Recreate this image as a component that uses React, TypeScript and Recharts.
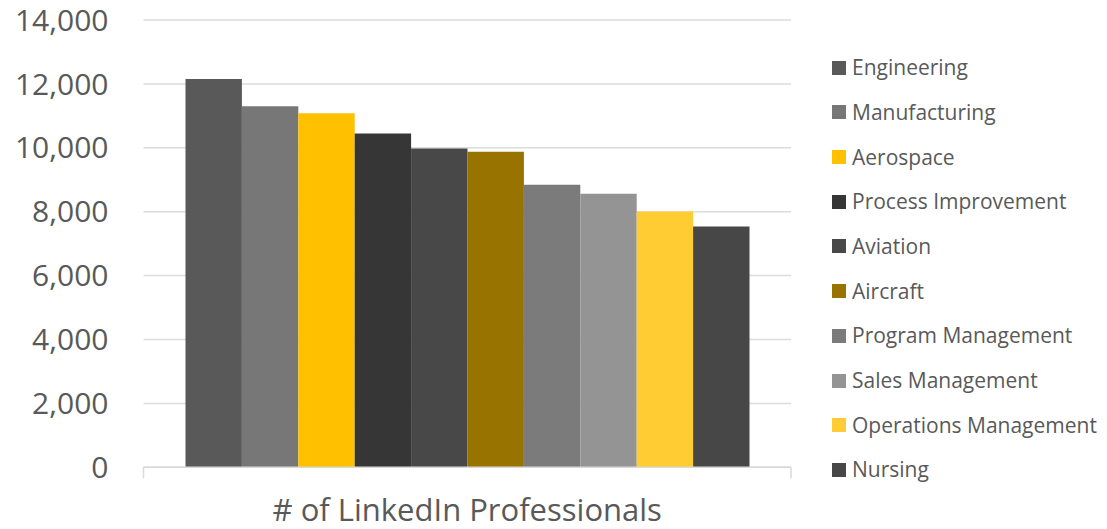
import React from 'react';
import { BarChart, Bar, XAxis, YAxis, CartesianGrid, Legend } from 'recharts';

const categories = ['# of LinkedIn Professionals'];
const seriesNames = [
  'Engineering',
  'Manufacturing',
  'Aerospace',
  'Process Improvement',
  'Aviation',
  'Aircraft',
  'Program Management',
  'Sales Management',
  'Operations Management',
  'Nursing',
];
const seriesValues = [12150, 11300, 11080, 10450, 9980, 9880, 8840, 8560, 8010, 7540];
const seriesColors = [
  '#595959',
  '#777777',
  '#FFC000',
  '#363636',
  '#484848',
  '#997300',
  '#7B7B7B',
  '#949494',
  '#FFCD33',
  '#474747',
];
const yTicks = [0, 2000, 4000, 6000, 8000, 10000, 12000, 14000];

const data = categories.map((c) => {
  const row: Record<string, any> = { name: c };
  seriesNames.forEach((s, i) => {
    row[s] = seriesValues[i];
  });
  return row;
});

const FONT = '"Open Sans", "Segoe UI", sans-serif';
const TEXT = '#595959';

const XTick = (props: any) => {
  const { x, y, payload } = props;
  const half = payload && payload.offset ? payload.offset : (props.width || 0) / 2;
  return (
    <g>
      <line x1={x - half} x2={x - half} y1={y} y2={y + 11} stroke="#d9d9d9" strokeWidth={1.5} />
      <line x1={x + half} x2={x + half} y1={y} y2={y + 11} stroke="#d9d9d9" strokeWidth={1.5} />
      <text x={x} y={y + 53.5} textAnchor="middle" fontSize={31} fill={TEXT} fontFamily={FONT}>
        {payload.value}
      </text>
    </g>
  );
};

const LegendContent = (props: any) => {
  const payload = [...(props.payload || [])].sort(
    (a: any, b: any) => seriesNames.indexOf(a.value) - seriesNames.indexOf(b.value)
  );
  return (
    <div style={{ fontFamily: FONT }}>
      {payload.map((p: any) => (
        <div
          key={p.value}
          style={{ height: 44.7, display: 'flex', alignItems: 'center', whiteSpace: 'nowrap' }}
        >
          <span
            style={{ width: 14, height: 14, background: p.color, display: 'inline-block', marginRight: 6 }}
          />
          <span style={{ fontSize: 21, color: TEXT, lineHeight: '21px' }}>{p.value}</span>
        </div>
      ))}
    </div>
  );
};

export default function App() {
  return (
    <div style={{ position: 'absolute', left: 0, top: 0, background: '#fff' }}>
      <BarChart
        width={1107}
        height={529}
        data={data}
        margin={{ top: 20, right: 316, bottom: 0, left: 0 }}
        barGap={0}
      >
        <CartesianGrid vertical={false} stroke="#dcdcdc" strokeWidth={1.5} />
        <XAxis
          dataKey="name"
          height={61.7}
          axisLine={{ stroke: '#d9d9d9', strokeWidth: 1.5 }}
          tickLine={false}
          tickSize={0}
          tickMargin={0}
          tick={<XTick />}
          interval={0}
        />
        <YAxis
          width={143.5}
          domain={[0, 14000]}
          ticks={yTicks}
          axisLine={false}
          tickLine={false}
          tickSize={0}
          tickMargin={35}
          tickFormatter={(v: number) => v.toLocaleString('en-US')}
          tick={{ fontSize: 30, fill: TEXT, fontFamily: FONT }}
        />
        <Legend
          layout="vertical"
          align="center"
          verticalAlign="middle"
          itemSorter={null as any}
          content={<LegendContent />}
          wrapperStyle={{ left: 832, top: 45.4, width: 275 }}
        />
        {seriesNames.map((s, i) => (
          <Bar key={s} dataKey={s} fill={seriesColors[i]} barSize={56.4} isAnimationActive={false} />
        ))}
      </BarChart>
    </div>
  );
}
